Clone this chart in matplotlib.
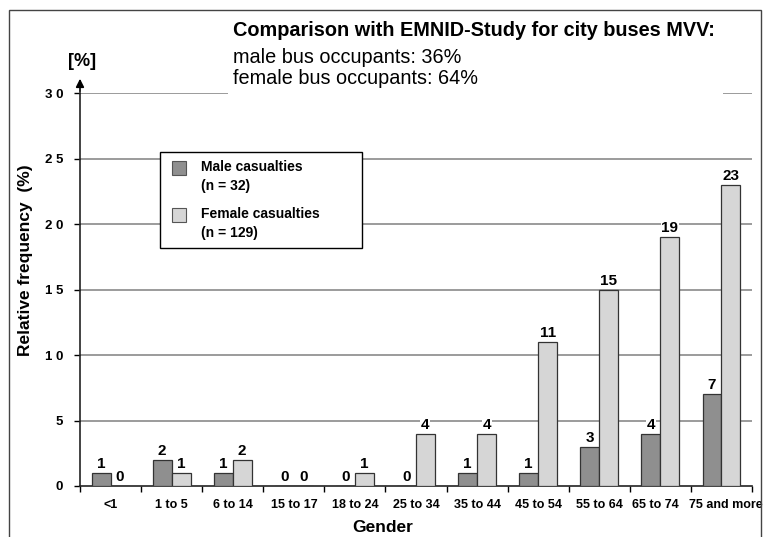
import matplotlib
matplotlib.use('Agg')
import matplotlib.pyplot as plt
import numpy as np
from matplotlib.patches import Rectangle
from matplotlib.transforms import ScaledTranslation

plt.rcParams['font.family'] = ['Liberation Sans', 'DejaVu Sans']

# 데이터
age_groups = ['<1', '1 to 5', '6 to 14', '15 to 17', '18 to 24', '25 to 34',
              '35 to 44', '45 to 54', '55 to 64', '65 to 74', '75 and more']
male_pct = [1, 2, 1, 0, 0, 0, 1, 1, 3, 4, 7]
female_pct = [0, 1, 2, 0, 1, 4, 4, 11, 15, 19, 23]
y_ticks = [0, 5, 10, 15, 20, 25, 30]
legend_labels = ['Male casualties\n(n = 32)', 'Female casualties\n(n = 129)']

male_color = '#8f8f8f'
female_color = '#d6d6d6'

fig = plt.figure(figsize=(7.65, 5.37), dpi=100)
W, H = 765, 537


def fx(px):
    return px / W


def fy(py):
    return 1 - py / H


ax = fig.add_axes([fx(80), fy(486), 672 / W, 393 / H])

centers = np.arange(len(age_groups)) + 0.5
bw = 0.31
male_bars = ax.bar(centers - bw / 2, male_pct, bw, color=male_color,
                   edgecolor='#333333', linewidth=0.9, zorder=3)
female_bars = ax.bar(centers + bw / 2, female_pct, bw, color=female_color,
                     edgecolor='#333333', linewidth=0.9, zorder=3)

# 막대 위 값 표시
for bars, vals in [(male_bars, male_pct), (female_bars, female_pct)]:
    for b, v in zip(bars, vals):
        ax.text(b.get_x() + b.get_width() / 2, v + 0.15, str(v), ha='center',
                va='bottom', fontsize=11, fontweight='bold', zorder=5,
                bbox=dict(facecolor='white', edgecolor='none', pad=0.5))

ax.set_xlim(0, len(age_groups))
ax.set_ylim(0, 30)
ax.set_yticks(y_ticks)
ax.set_yticklabels([' '.join(str(t)) for t in y_ticks], fontsize=9.5, fontweight='bold')
ax.tick_params(axis='y', length=4, width=1, pad=8)

ax.set_xticks(np.arange(len(age_groups) + 1))
ax.set_xticklabels([])
ax.tick_params(axis='x', which='major', length=4, width=1, direction='out')
ax.set_xticks(centers, minor=True)
ax.set_xticklabels(age_groups, minor=True, fontsize=9, fontweight='bold')
ax.tick_params(axis='x', which='minor', length=0, pad=9)
# 마지막 두 라벨 간격 조정
last = ax.get_xticklabels(minor=True)[-1]
last.set_transform(last.get_transform() + ScaledTranslation(4 / 100, 0, fig.dpi_scale_trans))
prev = ax.get_xticklabels(minor=True)[-2]
prev.set_transform(prev.get_transform() + ScaledTranslation(-5 / 100, 0, fig.dpi_scale_trans))

for t in y_ticks[1:]:
    ax.axhline(t, color='#8a8a8a', linewidth=1.2, zorder=1)

for s in ['top', 'right']:
    ax.spines[s].set_visible(False)
ax.spines['left'].set_linewidth(1.2)
ax.spines['bottom'].set_linewidth(1.2)
ax.spines['left'].set_color('#222222')
ax.spines['bottom'].set_color('#222222')

# 축 제목
fig.text(fx(383), fy(527), 'Gender', ha='center', va='center',
         fontsize=12.5, fontweight='bold')
fig.text(fx(26), fy(260), 'Relative frequency  (%)', ha='center', va='center',
         rotation=90, fontsize=12.5, fontweight='bold')

# y축 화살표
ax.annotate('', xy=(0, 31.3), xytext=(0, 29.9), xycoords='data',
            arrowprops=dict(arrowstyle='-|>', color='black', lw=1.2,
                            mutation_scale=12), annotation_clip=False)
fig.text(fx(82), fy(62), '[%]', ha='center', va='center',
         fontsize=13, fontweight='bold')

# 범례 (수동)
fig.patches.append(Rectangle((fx(160), fy(248)), 202 / W, 96 / H,
                             transform=fig.transFigure, facecolor='white',
                             edgecolor='black', linewidth=1.0, zorder=6))
for top, color, label in [(161, male_color, legend_labels[0]),
                          (208, female_color, legend_labels[1])]:
    fig.patches.append(Rectangle((fx(172), fy(top + 14)), 14 / W, 14 / H,
                                 transform=fig.transFigure, facecolor=color,
                                 edgecolor='#555555', linewidth=0.8, zorder=7))
    fig.text(fx(201), fy(top - 1), label, ha='left', va='top', fontsize=10,
             fontweight='bold', linespacing=1.45, zorder=7)

# 제목 영역
fig.patches.append(Rectangle((fx(228), fy(98)), 495 / W, 80 / H,
                             transform=fig.transFigure, facecolor='white',
                             edgecolor='none', zorder=5))
fig.text(fx(233), fy(31), 'Comparison with EMNID-Study for city buses MVV:',
         ha='left', va='center', fontsize=14.3, fontweight='bold', zorder=6)
fig.text(fx(233), fy(57), 'male bus occupants: 36%', ha='left', va='center',
         fontsize=14.3, zorder=6)
fig.text(fx(233), fy(78), 'female bus occupants: 64%', ha='left', va='center',
         fontsize=14.3, zorder=6)

# 바깥 테두리
fig.patches.append(Rectangle((fx(9), -0.05), 752 / W, fy(10) + 0.05,
                             transform=fig.transFigure, facecolor='none',
                             edgecolor='#444444', linewidth=1.0))

plt.savefig('out.png', dpi=100)
plt.close()
